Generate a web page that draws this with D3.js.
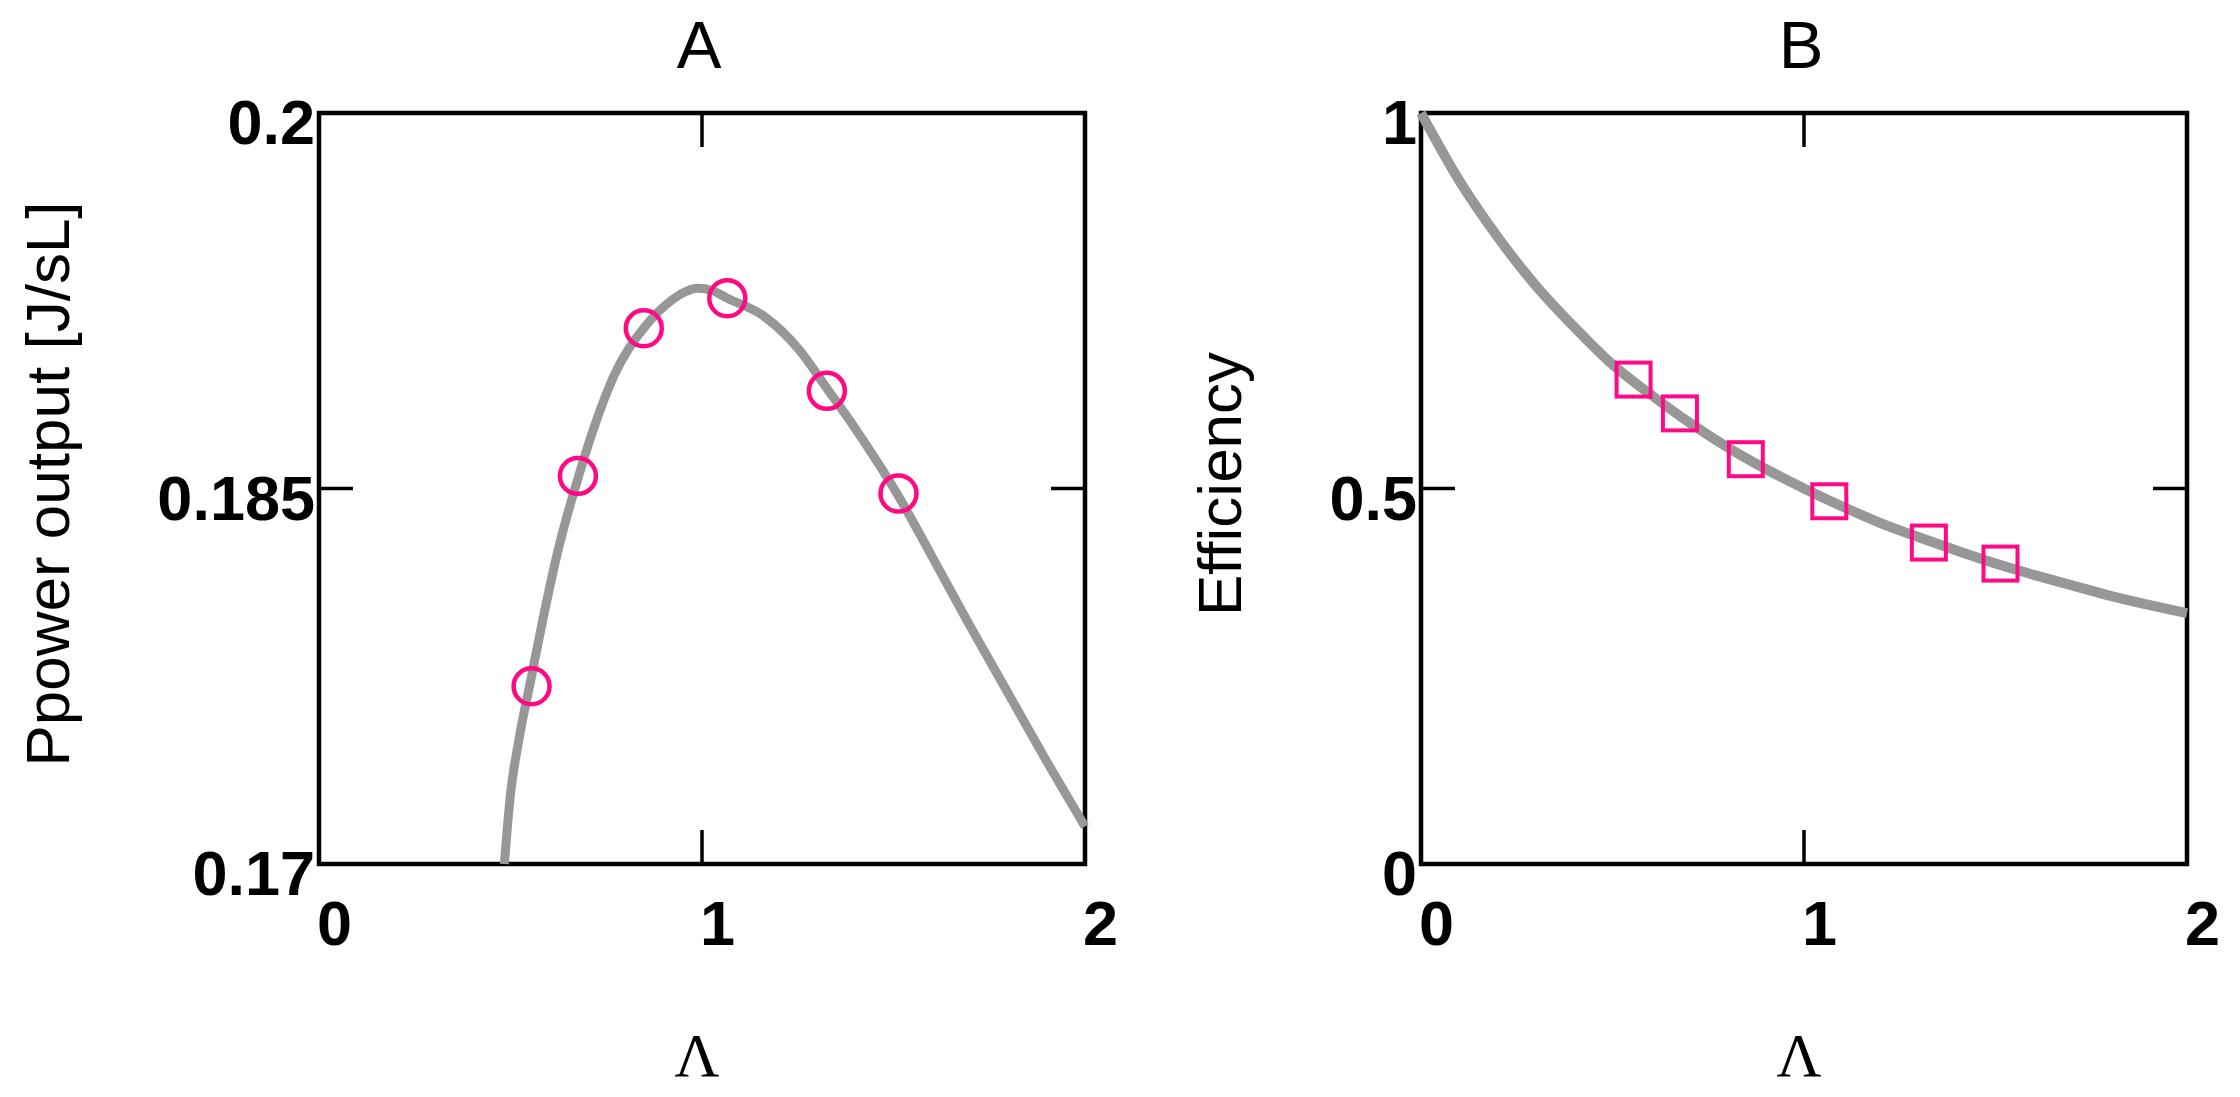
<!DOCTYPE html>
<html>
<head>
<meta charset="utf-8">
<script src="https://cdn.jsdelivr.net/npm/d3@7"></script>
<style>
  body { margin: 0; background: #fff; }
  svg { display: block; }
</style>
</head>
<body>
<script>
"use strict";

// data
var lambdaA = [0.484, 0.50, 0.52, 0.555, 0.585, 0.622, 0.678, 0.715, 0.77, 0.853, 0.919, 0.955, 0.99, 1.025, 1.066, 1.16, 1.256, 1.326, 1.40, 1.509, 1.60, 1.70, 1.80, 1.90, 2.00];
var powerA = [0.1700, 0.1728, 0.1748, 0.1775, 0.1798, 0.1824, 0.1855, 0.1873, 0.1895, 0.1915, 0.1925, 0.19285, 0.1930, 0.19292, 0.1926, 0.1919, 0.1905, 0.1890, 0.1874, 0.1848, 0.1823, 0.1795, 0.1768, 0.1741, 0.1715];

var lambdaB = [0, 0.1, 0.2, 0.3, 0.4, 0.5, 0.6, 0.7, 0.8, 0.9, 1.0, 1.1, 1.2, 1.3, 1.4, 1.5, 1.6, 1.7, 1.8, 1.9, 2.0];
var effB = [1.0, 0.91, 0.835, 0.77, 0.715, 0.665, 0.625, 0.588, 0.555, 0.526, 0.50, 0.476, 0.454, 0.435, 0.417, 0.400, 0.385, 0.371, 0.357, 0.345, 0.334];

var lambdaMarks = [0.555, 0.676, 0.848, 1.066, 1.326, 1.513];
var powerMarks = [0.1771, 0.1855, 0.1914, 0.1926, 0.1889, 0.1848];
var effMarks = [0.645, 0.600, 0.539, 0.483, 0.428, 0.400];

var xTicks = [0, 1, 2];
var xTickLabels = ["0", "1", "2"];
var yTicksA = [0.17, 0.185, 0.2];
var yTickLabelsA = ["0.17", "0.185", "0.2"];
var yTicksB = [0, 0.5, 1];
var yTickLabelsB = ["0", "0.5", "1"];

var width = 2240;
var height = 1097;
var plotTop = 113;
var plotBottom = 864;
var tickLen = 34;
var grey = "#979797";
var pink = "#ff0a84";
var sans = "'Liberation Sans', Arial, sans-serif";

var svg = d3.select("body").append("svg").attr("width", width).attr("height", height);

function panel(p) {
  var x = d3.scaleLinear().domain([0, 2]).range([p.left, p.right]);
  var y = d3.scaleLinear().domain(p.yDomain).range([plotBottom, plotTop]);
  var g = svg.append("g");

  // frame
  g.append("rect").attr("x", p.left).attr("y", plotTop)
    .attr("width", p.right - p.left).attr("height", plotBottom - plotTop)
    .attr("fill", "none").attr("stroke", "#000").attr("stroke-width", 4.5);

  // inner ticks at the middle values only
  var xm = x(xTicks[1]), ym = y(p.yTicks[1]);
  g.append("line").attr("x1", xm).attr("x2", xm).attr("y1", plotTop).attr("y2", plotTop + tickLen);
  g.append("line").attr("x1", xm).attr("x2", xm).attr("y1", plotBottom).attr("y2", plotBottom - tickLen);
  g.append("line").attr("x1", p.left).attr("x2", p.left + tickLen).attr("y1", ym).attr("y2", ym);
  g.append("line").attr("x1", p.right).attr("x2", p.right - tickLen).attr("y1", ym).attr("y2", ym);
  g.selectAll("line").attr("stroke", "#000").attr("stroke-width", 3.5);

  // tick labels
  g.selectAll(".xl").data(xTicks).enter().append("text")
    .attr("x", function (d) { return x(d) - 2; })
    .attr("y", 945)
    .attr("font-family", sans).attr("font-weight", "bold").attr("font-size", 63)
    .text(function (d, i) { return xTickLabels[i]; });

  g.selectAll(".yl").data(p.yTicks).enter().append("text")
    .attr("x", p.left - 4)
    .attr("y", function (d) { return y(d) + 31; })
    .attr("text-anchor", "end")
    .attr("font-family", sans).attr("font-weight", "bold").attr("font-size", 63)
    .text(function (d, i) { return p.yLabels[i]; });

  // titles
  g.append("text").attr("x", (p.left + p.right) / 2 - 3).attr("y", 68)
    .attr("text-anchor", "middle").attr("font-family", sans).attr("font-size", 67)
    .text(p.title);

  g.append("text").attr("x", (p.left + p.right) / 2 - 5).attr("y", 1076)
    .attr("text-anchor", "middle").attr("font-family", "'Liberation Serif', 'Times New Roman', serif")
    .attr("font-size", 62).text("\u039b");

  g.append("text")
    .attr("transform", "translate(" + p.labelX + ",484) rotate(-90)")
    .attr("text-anchor", "middle").attr("font-family", sans).attr("font-size", 62)
    .text(p.yTitle);

  // curve
  var line = d3.line()
    .x(function (d) { return x(d[0]); })
    .y(function (d) { return y(d[1]); })
    .curve(d3.curveMonotoneX);
  var pts = p.cx.map(function (v, i) { return [v, p.cy[i]]; });
  g.append("path").datum(pts).attr("d", line)
    .attr("fill", "none").attr("stroke", grey).attr("stroke-width", p.lineW);

  // markers
  var marks = lambdaMarks.map(function (v, i) { return [v, p.my[i]]; });
  if (p.marker === "circle") {
    g.selectAll(".m").data(marks).enter().append("circle")
      .attr("cx", function (d) { return x(d[0]); })
      .attr("cy", function (d) { return y(d[1]); })
      .attr("r", 18)
      .attr("fill", "none").attr("stroke", pink).attr("stroke-width", 4.5);
  } else {
    g.selectAll(".m").data(marks).enter().append("rect")
      .attr("x", function (d) { return x(d[0]) - 17; })
      .attr("y", function (d) { return y(d[1]) - 17; })
      .attr("width", 34).attr("height", 34)
      .attr("fill", "none").attr("stroke", pink).attr("stroke-width", 4);
  }
}

panel({
  left: 319, right: 1085, yDomain: [0.17, 0.2],
  yTicks: yTicksA, yLabels: yTickLabelsA,
  title: "A", yTitle: "Ppower output [J/sL]", labelX: 69,
  cx: lambdaA, cy: powerA, lineW: 9,
  my: powerMarks, marker: "circle"
});

panel({
  left: 1421, right: 2187, yDomain: [0, 1],
  yTicks: yTicksB, yLabels: yTickLabelsB,
  title: "B", yTitle: "Efficiency", labelX: 1241,
  cx: lambdaB, cy: effB, lineW: 10,
  my: effMarks, marker: "square"
});
</script>
</body>
</html>
